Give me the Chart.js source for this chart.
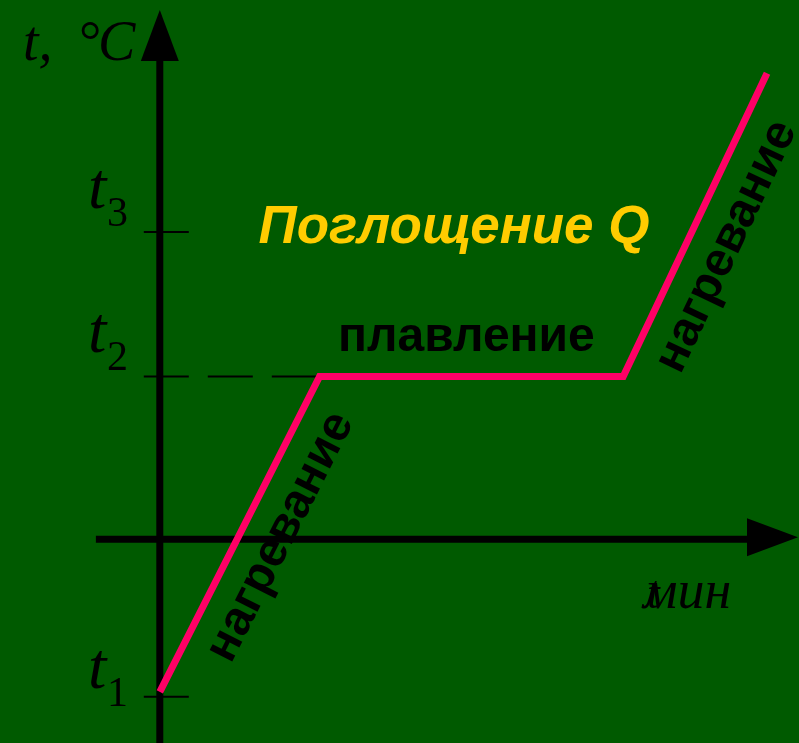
<!DOCTYPE html>
<html>
<head>
<meta charset="utf-8">
<script src="https://cdn.jsdelivr.net/npm/chart.js@4.4.1/dist/chart.umd.min.js"></script>
<style>
  html, body { margin: 0; padding: 0; background: #005a00; overflow: hidden; }
  #wrap { width: 799px; height: 743px; position: relative; }
</style>
</head>
<body>
<div id="wrap"><canvas id="meltChart"></canvas></div>
<script>
// time (min) and temperature points of the curve
const times = [0, 4, 11.6, 15.2];
const temps = [-15.1, 16.3, 16.3, 46.5];

// marked temperatures on the vertical axis
const tickTemps = [-15.6, 16.3, 30.7];
const tickNames = ['1', '2', '3'];

// stage labels
const stageLabels = ['нагревание', 'плавление', 'нагревание'];
const titleText = 'Поглощение Q';

const serif = '"Liberation Serif", "Times New Roman", serif';
const sans = '"Liberation Sans", Arial, sans-serif';

// draws the arrows, ticks and all the texts around the curve
const schemePlugin = {
  id: 'scheme',
  beforeDatasetsDraw(chart) {
    const ctx = chart.ctx;
    const xs = chart.scales.x, ys = chart.scales.y;
    const x0 = xs.getPixelForValue(0);
    const y0 = ys.getPixelForValue(0);
    const right = chart.width, bottom = chart.height;

    ctx.save();
    ctx.fillStyle = '#000';
    ctx.strokeStyle = '#000';

    // vertical axis
    ctx.lineWidth = 7;
    ctx.beginPath();
    ctx.moveTo(x0, bottom);
    ctx.lineTo(x0, 58);
    ctx.stroke();
    ctx.beginPath();
    ctx.moveTo(x0, 10);
    ctx.lineTo(x0 - 19, 61);
    ctx.lineTo(x0 + 19, 61);
    ctx.closePath();
    ctx.fill();

    // horizontal axis
    ctx.beginPath();
    ctx.moveTo(xs.getPixelForValue(-1.6), y0 - 1);
    ctx.lineTo(right - 50, y0 - 1);
    ctx.stroke();
    ctx.beginPath();
    ctx.moveTo(right - 1, y0 - 3);
    ctx.lineTo(right - 52, y0 - 22);
    ctx.lineTo(right - 52, y0 + 16);
    ctx.closePath();
    ctx.fill();

    // ticks: t1 and t3 short, t2 dashed up to the plateau
    ctx.lineWidth = 2;
    tickTemps.forEach((t, i) => {
      const py = ys.getPixelForValue(t);
      ctx.beginPath();
      if (tickNames[i] === '2') {
        ctx.setLineDash([45, 19]);
        ctx.moveTo(x0 - 16, py);
        ctx.lineTo(xs.getPixelForValue(times[1]), py);
      } else {
        ctx.setLineDash([]);
        ctx.moveTo(x0 - 16, py);
        ctx.lineTo(x0 + 29, py);
      }
      ctx.stroke();
    });
    ctx.setLineDash([]);
    ctx.restore();
  },
  afterDatasetsDraw(chart) {
    const ctx = chart.ctx;
    const xs = chart.scales.x, ys = chart.scales.y;
    const y0 = ys.getPixelForValue(0);

    ctx.save();
    ctx.fillStyle = '#000';
    ctx.textAlign = 'left';
    ctx.textBaseline = 'alphabetic';

    // axis titles
    ctx.font = 'italic 56px ' + serif;
    ctx.fillText('t,', 23, 60);
    ctx.font = '56px ' + serif;
    ctx.fillText('°', 79, 60);
    ctx.font = 'italic 56px ' + serif;
    ctx.fillText('C', 98, 60);

    ctx.font = 'italic 54px ' + serif;
    ctx.fillText('мин', 643, y0 + 68);
    ctx.font = 'italic 46px ' + serif;
    ctx.fillText('t', 647, y0 + 68);

    // t1, t2, t3 labels
    const baseOff = [-9, -25, -24];
    tickTemps.forEach((t, i) => {
      const py = ys.getPixelForValue(t);
      ctx.font = 'italic 66px ' + serif;
      ctx.fillText('t', 88, py + baseOff[i]);
      ctx.font = '42px ' + serif;
      ctx.fillText(tickNames[i], 107, py + baseOff[i] + 18);
    });

    // title over the plateau
    ctx.textAlign = 'center';
    ctx.fillStyle = '#ffcc00';
    ctx.font = 'italic bold 53px ' + sans;
    ctx.fillText(titleText, 454, ys.getPixelForValue(tickTemps[2]) + 11);

    ctx.fillStyle = '#000';
    ctx.font = 'bold 48px ' + sans;
    const plateauY = ys.getPixelForValue(temps[1]);
    ctx.fillText(stageLabels[1], (xs.getPixelForValue(times[1]) + xs.getPixelForValue(times[2])) / 2 - 5, plateauY - 26);

    // rotated labels along the heating segments
    const segs = [[0, 1, 16], [2, 3, -6]];
    segs.forEach(([a, b, along], k) => {
      const ax = xs.getPixelForValue(times[a]), ay = ys.getPixelForValue(temps[a]);
      const bx = xs.getPixelForValue(times[b]), by = ys.getPixelForValue(temps[b]);
      const ang = Math.atan2(by - ay, bx - ax);
      const cx = (ax + bx) / 2 + Math.cos(ang) * along - Math.sin(ang) * 38;
      const cy = (ay + by) / 2 + Math.sin(ang) * along + Math.cos(ang) * 38;
      ctx.save();
      ctx.translate(cx, cy);
      ctx.rotate(ang);
      ctx.fillText(k === 0 ? stageLabels[0] : stageLabels[2], 0, 13);
      ctx.restore();
    });
    ctx.restore();
  }
};

new Chart(document.getElementById('meltChart'), {
  type: 'line',
  data: {
    datasets: [{
      data: times.map((t, i) => ({ x: t, y: temps[i] })),
      borderColor: '#ff0066',
      borderWidth: 7,
      borderJoinStyle: 'miter',
      pointRadius: 0,
      tension: 0,
      fill: false,
      clip: false
    }]
  },
  options: {
    responsive: true,
    maintainAspectRatio: false,
    animation: false,
    devicePixelRatio: 1,
    layout: { padding: 0 },
    plugins: {
      legend: { display: false },
      tooltip: { enabled: false }
    },
    scales: {
      x: { type: 'linear', display: false, min: -4, max: 16 },
      y: { type: 'linear', display: false, min: -20.2, max: 53.8 }
    }
  },
  plugins: [schemePlugin]
});
</script>
</body>
</html>
